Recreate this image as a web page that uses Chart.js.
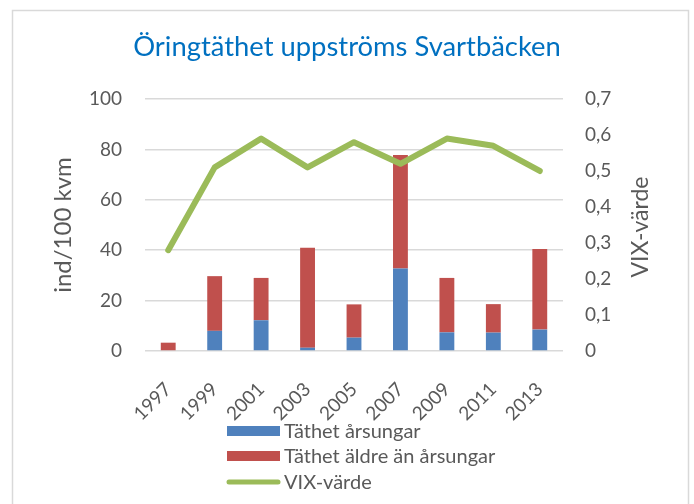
<!DOCTYPE html>
<html>
<head>
<meta charset="utf-8">
<script src="https://cdn.jsdelivr.net/npm/chart.js@4/dist/chart.umd.min.js"></script>
<style>
  body { margin: 0; background: #fff; }
  #wrap { width: 694px; height: 504px; position: relative; }
</style>
</head>
<body>
<div id="wrap"><canvas id="chartCanvas"></canvas></div>
<script>
// chart data
var years = ['1997', '1999', '2001', '2003', '2005', '2007', '2009', '2011', '2013']
var arsungar = [0, 8.0, 12.2, 1.3, 5.3, 32.7, 7.4, 7.3, 8.5]
var aldre = [3.3, 21.7, 16.8, 39.7, 13.2, 45.1, 21.6, 11.3, 32.0]
var vix = [0.28, 0.51, 0.59, 0.51, 0.58, 0.52, 0.59, 0.57, 0.50]
var vixTickLabels = ['0', '0,1', '0,2', '0,3', '0,4', '0,5', '0,6', '0,7']

var textGrey = '#595959'
var fontName = 'Lato'

// frame + legend + right title, drawn on canvas
var extras = {
    id: 'extras',
    beforeDraw: function(chart) {
        var ctx = chart.ctx
        ctx.save()
        ctx.fillStyle = '#fff'
        ctx.fillRect(0, 0, chart.width, chart.height)
        ctx.strokeStyle = '#D9D9D9'
        ctx.lineWidth = 1.5
        ctx.strokeRect(12.5, 10.5, 676, 520)
        ctx.restore()
    },
    afterDraw: function(chart) {
        var ctx = chart.ctx
        ctx.save()
        // right axis title (reads bottom to top like the left one)
        ctx.fillStyle = textGrey
        ctx.font = '23px ' + fontName
        ctx.textAlign = 'center'
        ctx.textBaseline = 'middle'
        ctx.translate(641, 227)
        ctx.rotate(-Math.PI / 2)
        ctx.fillText('VIX-värde', 0, 0)
        ctx.restore()

        // legend
        ctx.save()
        ctx.font = '20px ' + fontName
        ctx.textBaseline = 'middle'
        ctx.textAlign = 'left'
        var rows = [431, 456, 482]
        chart.data.datasets.forEach(function(ds, i) {
            var y = rows[i]
            if (ds.type === 'line') {
                ctx.strokeStyle = ds.borderColor
                ctx.lineWidth = 5
                ctx.lineCap = 'round'
                ctx.beginPath()
                ctx.moveTo(229, y)
                ctx.lineTo(278, y)
                ctx.stroke()
            } else {
                ctx.fillStyle = ds.backgroundColor
                ctx.fillRect(227, y - 5, 53, 10)
            }
            ctx.fillStyle = textGrey
            ctx.fillText(ds.label, 284, y + 1)
        })
        ctx.restore()
    }
}

var chartData = {
    labels: years,
    datasets: [{
        type: 'bar',
        label: 'Täthet årsungar',
        data: arsungar,
        backgroundColor: '#4F81BD',
        yAxisID: 'y',
        stack: 'a',
        order: 1,
        categoryPercentage: 1,
        barPercentage: 0.32
    }, {
        type: 'bar',
        label: 'Täthet äldre än årsungar',
        data: aldre,
        backgroundColor: '#C0504D',
        yAxisID: 'y',
        stack: 'a',
        order: 1,
        categoryPercentage: 1,
        barPercentage: 0.32
    }, {
        type: 'line',
        label: 'VIX-värde',
        data: vix,
        borderColor: '#9BBB59',
        backgroundColor: '#9BBB59',
        borderWidth: 6,
        borderCapStyle: 'round',
        borderJoinStyle: 'round',
        pointRadius: 0,
        tension: 0,
        yAxisID: 'y1',
        order: 0
    }]
}

var ctx = document.getElementById('chartCanvas').getContext('2d')
var myChart = new Chart(ctx, {
    type: 'bar',
    data: chartData,
    plugins: [extras],
    options: {
        responsive: true,
        maintainAspectRatio: false,
        animation: false,
        layout: { padding: { left: 0, right: 0, top: 10, bottom: 0 } },
        plugins: {
            legend: { display: false },
            tooltip: { enabled: false },
            title: {
                display: true,
                text: 'Öringtäthet uppströms Svartbäcken',
                color: '#0070C0',
                font: { family: fontName, size: 27.4, weight: 'normal' },
                padding: { top: 21, bottom: 35.1 }
            }
        },
        scales: {
            x: {
                stacked: true,
                grid: { display: false },
                border: { display: false },
                ticks: {
                    color: textGrey,
                    font: { family: fontName, size: 19 },
                    minRotation: 45,
                    maxRotation: 45,
                    autoSkip: false,
                    padding: 19
                },
                afterFit: function(scale) { scale.height = 153 }
            },
            y: {
                stacked: true,
                position: 'left',
                min: 0,
                max: 100,
                grid: { color: '#D9D9D9', lineWidth: 1.5, drawTicks: false },
                border: { display: false },
                ticks: {
                    stepSize: 20,
                    color: textGrey,
                    font: { family: fontName, size: 19 },
                    padding: 23
                },
                title: {
                    display: true,
                    text: 'ind/100 kvm',
                    color: textGrey,
                    font: { family: fontName, size: 24 },
                    padding: { top: 49, bottom: 0 }
                },
                afterFit: function(scale) { scale.width = 145 }
            },
            y1: {
                position: 'right',
                min: 0,
                max: 0.7,
                grid: { display: false, drawTicks: false },
                border: { display: false },
                ticks: {
                    stepSize: 0.1,
                    color: textGrey,
                    font: { family: fontName, size: 19 },
                    padding: 22,
                    callback: function(v, i) { return vixTickLabels[i] }
                },
                afterFit: function(scale) { scale.width = 131 }
            }
        }
    }
})
</script>
</body>
</html>
